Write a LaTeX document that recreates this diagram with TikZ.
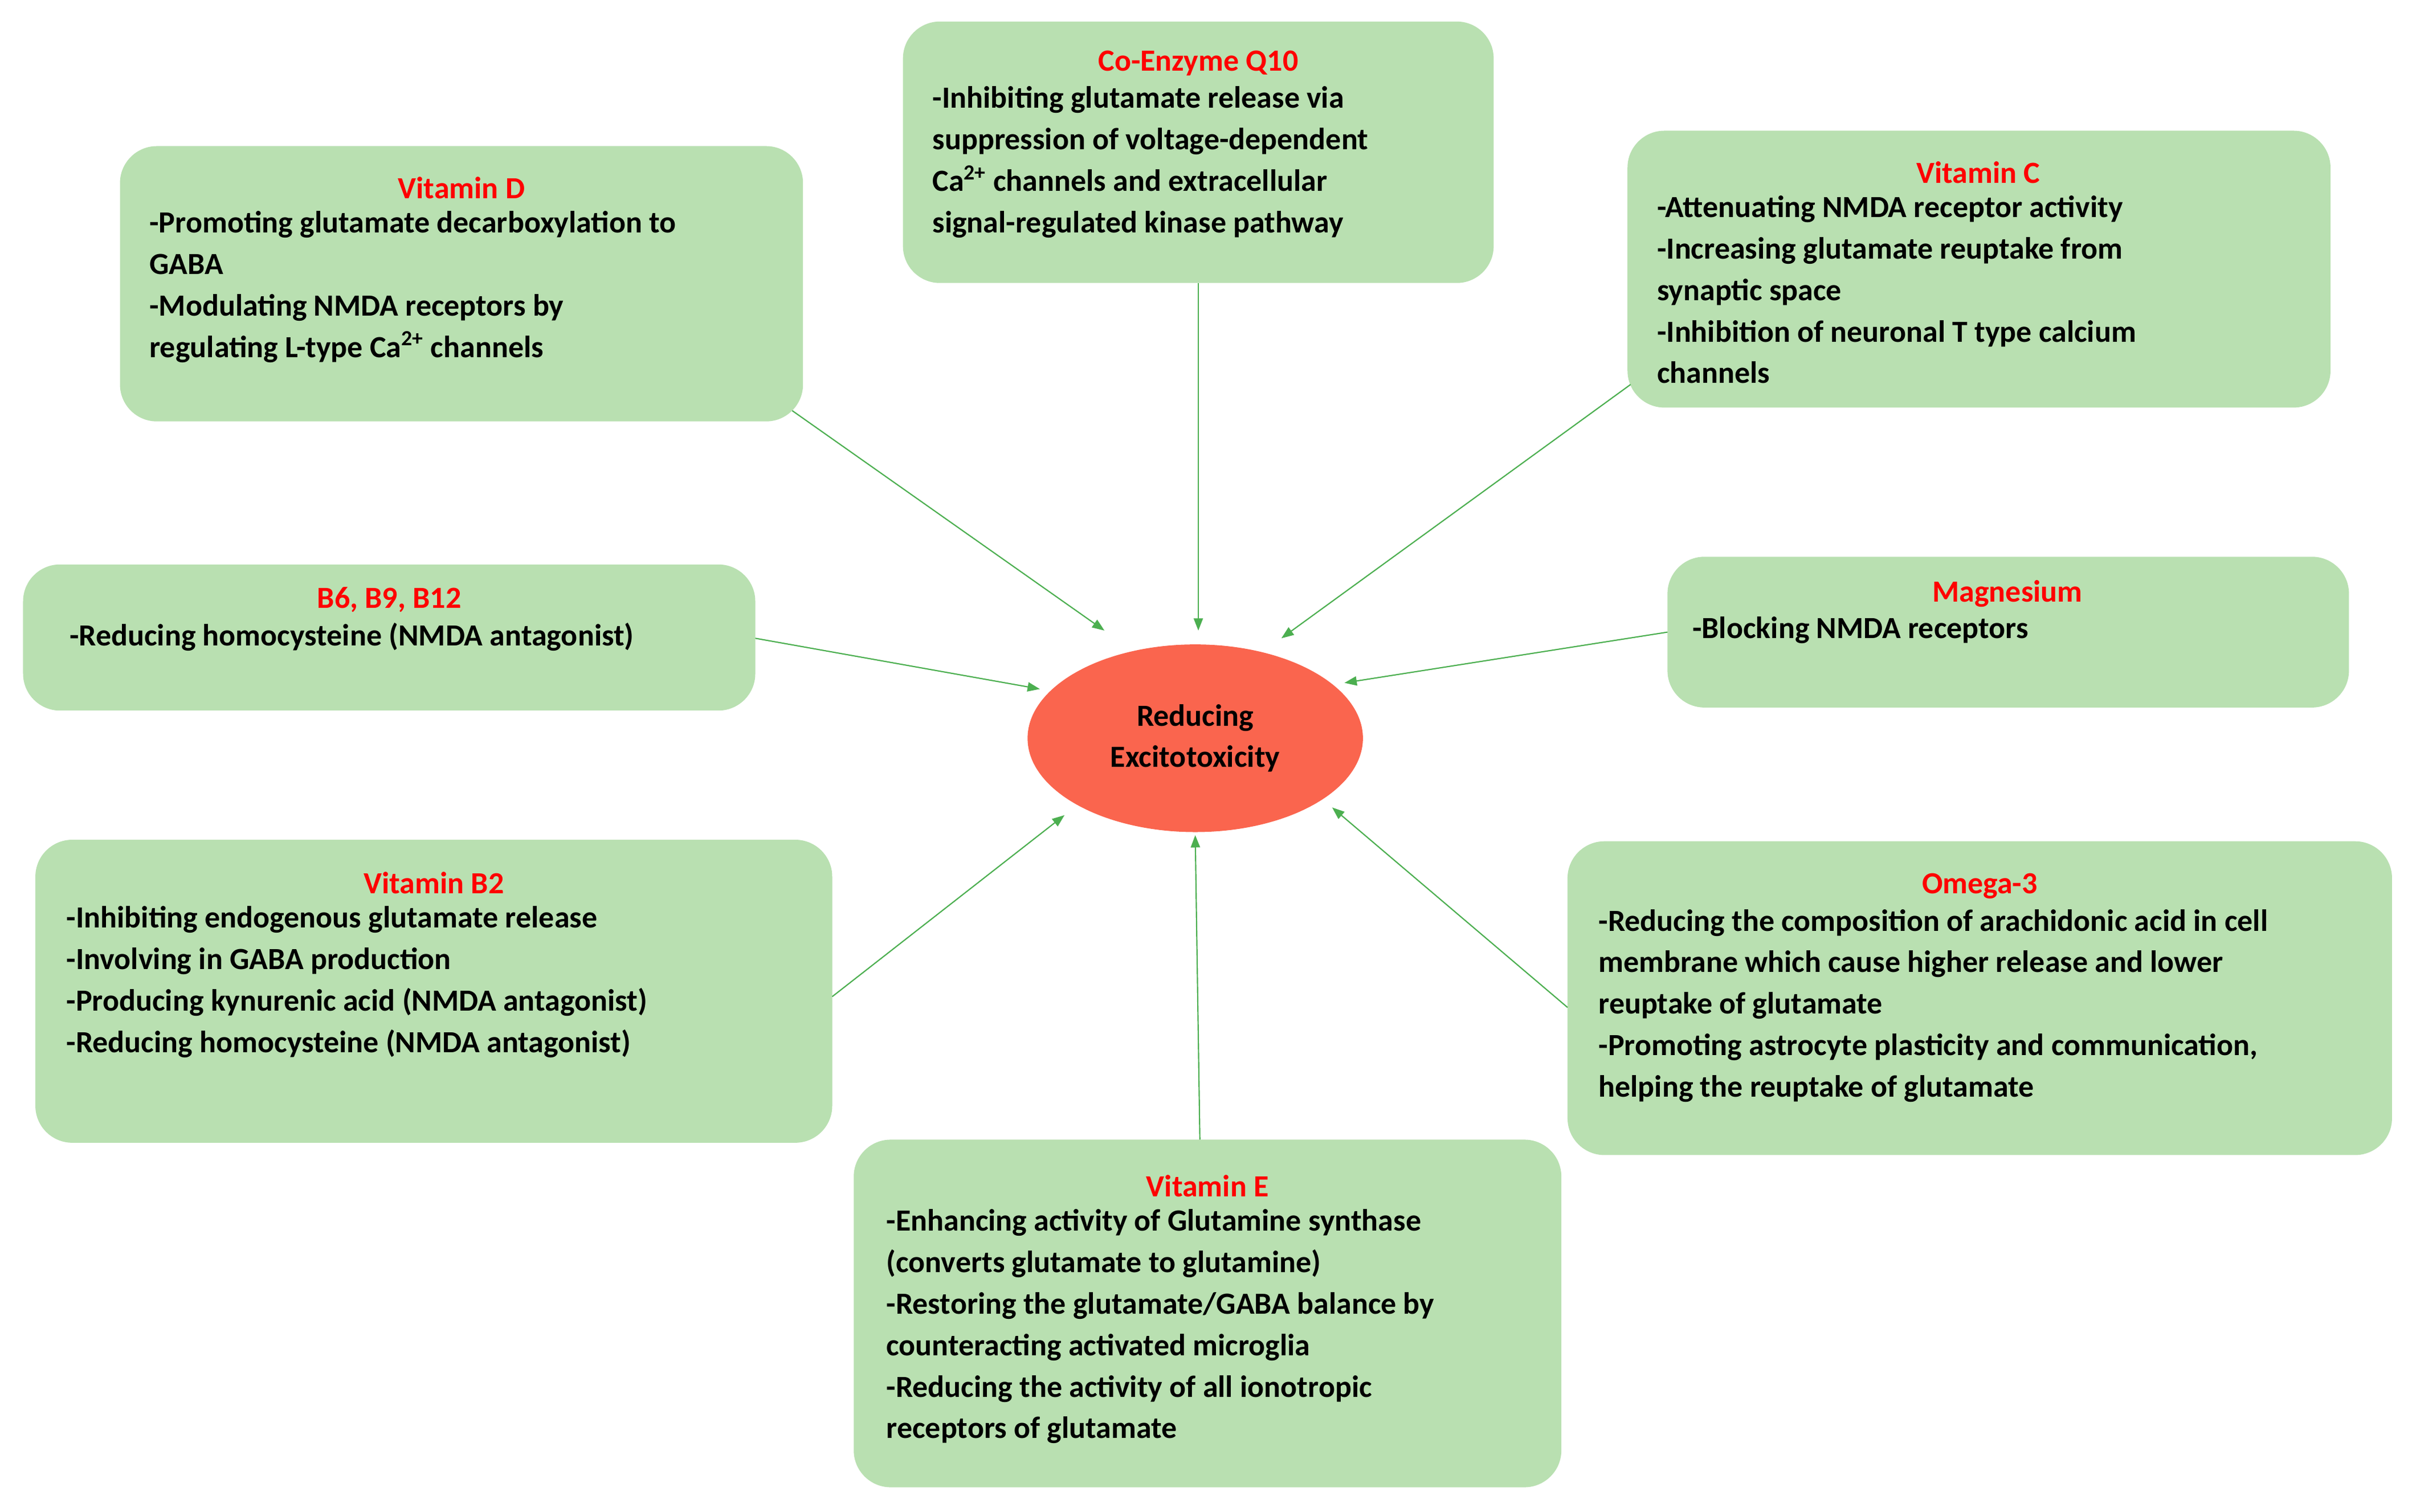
\documentclass[tikz,border=0pt]{standalone}
\usepackage{fontspec}
\setmainfont{Carlito}
\usetikzlibrary{arrows.meta,shapes.geometric}
\definecolor{boxg}{HTML}{B9E0B1}
\definecolor{arrg}{HTML}{4CAF50}
\definecolor{ell}{HTML}{FA654E}
\definecolor{ttl}{HTML}{FF0000}
\begin{document}
\begin{tikzpicture}[x=1pt,y=-1pt,
  box/.style={fill=boxg,draw=none,rounded corners=24pt},
  ttl/.style={text=ttl,font=\fontsize{20}{27}\selectfont\bfseries,inner sep=0},
  bd/.style={anchor=north west,align=left,font=\fontsize{20}{27}\selectfont\bfseries,inner sep=0},
  arr/.style={draw=arrg,line width=0.8pt,-{Triangle[length=8pt,width=6pt]}}]
\useasboundingbox (0,0) rectangle (1568,983);
\fill[white] (0,0) rectangle (1568,983);
% boxes
\path[box] (78,95) rectangle (522,274);
\path[box] (587,14) rectangle (971,184);
\path[box] (1058,85) rectangle (1515,265);
\path[box] (15,367) rectangle (491,462);
\path[box] (1084,362) rectangle (1527,460);
\path[box] (23,546) rectangle (541,743);
\path[box] (1019,547) rectangle (1555,751);
\path[box] (555,741) rectangle (1015,967);
% ellipse
\node[ellipse,fill=ell,minimum width=218pt,minimum height=122pt,align=center,inner sep=0,
  font=\fontsize{20}{27}\selectfont\bfseries] (ex) at (777,480) {Reducing\\Excitotoxicity};
% texts
\node[ttl] (tD) at (300,122) {Vitamin D};
\node[bd] (bD) at (97,137) {-Promoting glutamate decarboxylation to\\GABA\\-Modulating NMDA receptors by\\regulating L-type Ca\textsuperscript{2+} channels};
\node[ttl] (tQ) at (779,41) {Co-Enzyme Q10};
\node[bd] (bQ) at (606,56) {-Inhibiting glutamate release via\\suppression of voltage-dependent\\Ca\textsuperscript{2+} channels and extracellular\\signal-regulated kinase pathway};
\node[ttl] (tC) at (1286,112) {Vitamin C};
\node[bd] (bC) at (1077,127) {-Attenuating NMDA receptor activity\\-Increasing glutamate reuptake from\\synaptic space\\-Inhibition of neuronal T type calcium\\channels};
\node[ttl] (tB6) at (253,390) {B6, B9, B12};
\node[bd] (bB6) at (45,405) {-Reducing homocysteine (NMDA antagonist)};
\node[ttl] (tM) at (1305,386) {Magnesium};
\node[bd] (bM) at (1100,401) {-Blocking NMDA receptors};
\node[ttl] (tB2) at (282,574) {Vitamin B2};
\node[bd] (bB2) at (43,589) {-Inhibiting endogenous glutamate release\\-Involving in GABA production\\-Producing kynurenic acid (NMDA antagonist)\\-Reducing homocysteine (NMDA antagonist)};
\node[ttl] (tO) at (1287,576) {Omega-3};
\node[bd] (bO) at (1039,591) {-Reducing the composition of arachidonic acid in cell\\membrane which cause higher release and lower\\reuptake of glutamate\\-Promoting astrocyte plasticity and communication,\\helping the reuptake of glutamate};
\node[ttl] (tE) at (785,771) {Vitamin E};
\node[bd] (bE) at (576,786) {-Enhancing activity of Glutamine synthase\\(converts glutamate to glutamine)\\-Restoring the glutamate/GABA balance by\\counteracting activated microglia\\-Reducing the activity of all ionotropic\\receptors of glutamate};
% connector end points
\coordinate (sD) at (515,267); \coordinate (eD) at (718,410);
\coordinate (sQ) at (779,184); \coordinate (eQ) at (779,410);
\coordinate (sC) at (1060,250); \coordinate (eC) at (833,415);
\coordinate (sB6) at (491,415); \coordinate (eB6) at (676,448);
\coordinate (sM) at (1084,411); \coordinate (eM) at (874,444);
\coordinate (sB2) at (541,648); \coordinate (eB2) at (692,530);
\coordinate (sO) at (1019,655); \coordinate (eO) at (866,525);
\coordinate (sE) at (780,741); \coordinate (eE) at (777,543);
\foreach \k in {D,Q,C,B6,M,B2,O,E} \draw[arr] (s\k) -- (e\k);
\end{tikzpicture}
\end{document}
